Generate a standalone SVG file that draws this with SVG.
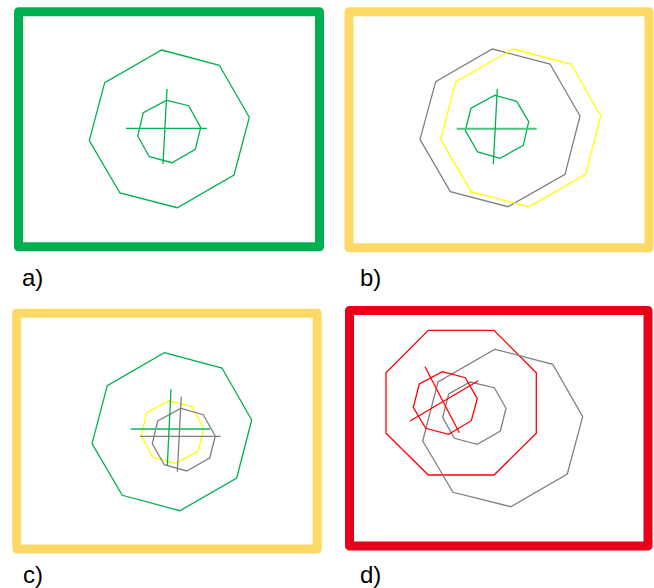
<svg xmlns="http://www.w3.org/2000/svg" width="654" height="588" viewBox="0 0 654 588">
<style>
.frame{fill:none;stroke-width:9;stroke-linejoin:round}
.poly{fill:none;stroke-width:1.3;stroke-linejoin:miter}
.g{stroke:#00B050}.gy{stroke:#808080}.y{stroke:#FFFF00}.r{stroke:#FF0000}
.lg{stroke:#4CC77F;stroke-width:2}
.lbl{font-family:"Liberation Sans",Arial,sans-serif;font-size:24px;fill:#000}
</style>
<rect width="654" height="588" fill="#fff"/>
<g id="panel-a">
<rect class="frame" x="18.5" y="11.7" width="301" height="235.1" stroke="#00B050"/>
<polygon class="poly g" points="161.7,50 219.3,65.3 249.3,117.3 234,175 177.3,207.7 120,193 89.3,140.7 104.7,82.7"/>
<polygon class="poly g" points="166.7,100.3 188.7,105.7 200.7,127.7 195.3,149.3 172,162.7 149.3,156.7 137.7,136 143.3,112.7"/>
<line class="poly g" x1="126" y1="128.3" x2="206.7" y2="128.3"/>
<line class="poly g" x1="167" y1="89" x2="163" y2="164"/>
<text class="lbl" x="22" y="286">a)</text>
</g>
<g id="panel-b">
<rect class="frame" x="349" y="11.7" width="300" height="236.1" stroke="#FFD966"/>
<polygon class="poly gy" points="492.3,49 550,64 580,116 565,174.3 508,206.7 450.3,191.7 420,139.3 435.7,81.7"/>
<polygon class="poly y" points="513.3,49 571.3,64.3 600.7,116 585.7,174.3 528.7,206.7 471,191.7 440.7,139.3 455.7,81.7"/>
<polygon class="poly g" points="495,95.3 516.7,101.3 528.7,121.7 523.3,145.3 500,158.3 477.7,152 465.3,130.7 471,108.3"/>
<line class="poly lg" x1="456.7" y1="128.7" x2="536.7" y2="128.7"/>
<line class="poly g" x1="497.3" y1="89" x2="493.3" y2="164.3"/>
<text class="lbl" x="360" y="286">b)</text>
</g>
<g id="panel-c">
<rect class="frame" x="16.7" y="313.3" width="300.5" height="235.7" stroke="#FFD966"/>
<polygon class="poly g" points="164.3,352.7 222,368 251.7,420 236.7,478 180,510.7 122.3,495.3 92,443.7 107.3,385.7"/>
<polygon class="poly y" points="169.3,400.7 192,406.7 203.7,428.3 198.3,451 175.3,463.3 152.7,457.3 141.3,435.7 146.7,412.7"/>
<polygon class="poly gy" points="181,408.3 203.3,414.7 215.3,436 209.7,458 186.7,471 164.3,464.7 152.3,443.7 157.7,421"/>
<line class="poly lg" x1="130.7" y1="429" x2="210" y2="429"/>
<line class="poly g" x1="171" y1="389.3" x2="167.3" y2="465.7"/>
<line class="poly gy" x1="140" y1="436.3" x2="220.7" y2="436.3"/>
<line class="poly gy" x1="181.3" y1="396.7" x2="177.3" y2="471.7"/>
<text class="lbl" x="23" y="583">c)</text>
</g>
<g id="panel-d">
<rect class="frame" x="349.5" y="310.5" width="298.5" height="235.5" stroke="#E60019"/>
<polygon class="poly r" points="428.3,330.3 494,330.3 536.3,372.7 536.3,433.3 494,475 428.3,475 386,433.3 386,372.7"/>
<polygon class="poly gy" points="495,349.3 552.7,364.3 582.7,416.7 567.3,474 510.7,506.7 453,492.3 422.7,441 438,382"/>
<polygon class="poly gy" points="470,382 494.3,387.7 506,408.3 500.3,431 477.3,444.3 454.3,438.3 442.7,417.3 448.7,394"/>
<polygon class="poly r" points="442.3,371.7 465.3,377.7 477.3,398.7 471.3,420.7 448.7,434.3 425.7,428.3 413.3,407.3 419.3,384"/>
<line class="poly r" x1="425" y1="366.7" x2="459.3" y2="432.7"/>
<line class="poly r" x1="410" y1="421" x2="478.3" y2="380.7"/>
<text class="lbl" x="360" y="583">d)</text>
</g>
<g id="connectors"/>
</svg>
